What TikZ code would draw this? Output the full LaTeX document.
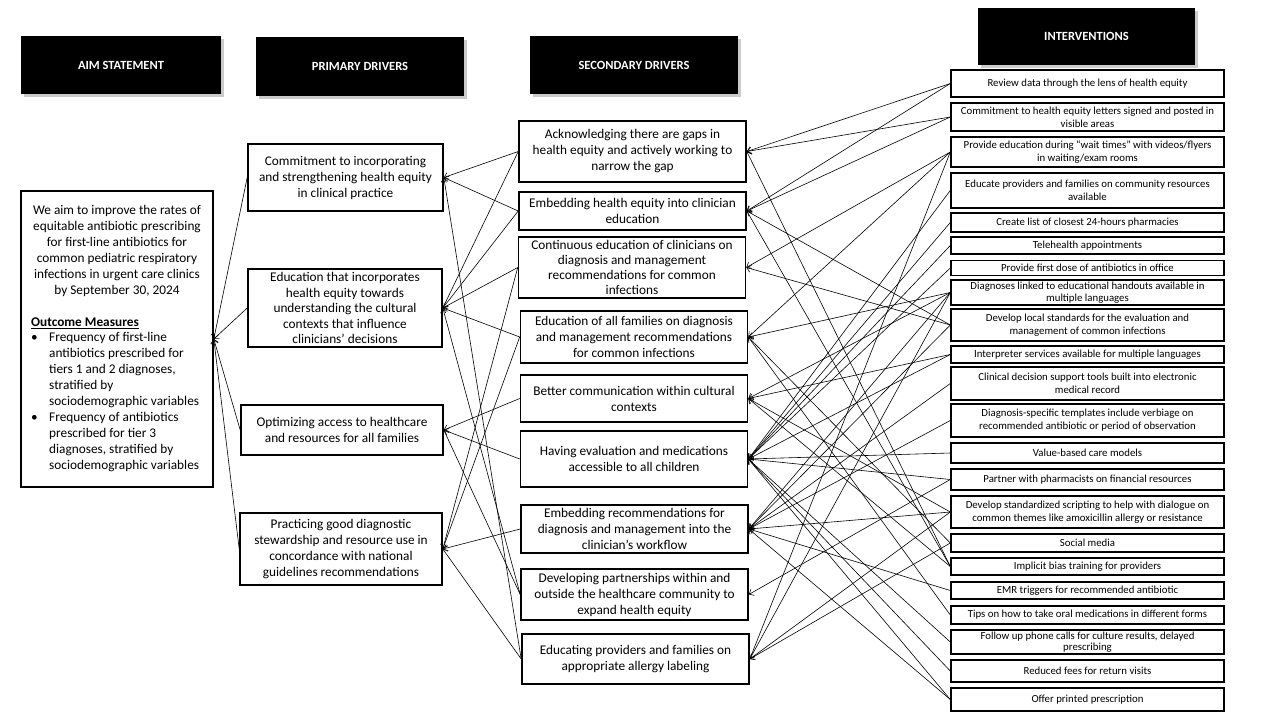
\documentclass[tikz,border=0pt]{standalone}
\usepackage{fontspec}
\setmainfont{Carlito}
\usetikzlibrary{arrows.meta,shadows}
\begin{document}
\begin{tikzpicture}[x=1pt,y=-1pt,
 hdr/.style={fill=black, text=white, font=\fontsize{12.5}{14}\selectfont\bfseries, inner sep=0pt,
   drop shadow={shadow xshift=2.5pt, shadow yshift=-2.5pt, fill=black!40}},
 bx/.style={draw, line width=1.6pt, inner sep=0pt, align=center, fill=white},
 big/.style={bx, font=\fontsize{13.3}{16}\selectfont},
 sec/.style={big, minimum width=227pt},
 iv/.style={bx, line width=1.4pt, font=\fontsize{10.8}{12.8}\selectfont, minimum width=273pt},
 conn/.style={line width=0.6pt, -{Straight Barb[length=4pt,width=7pt]}},
 txt/.style={inner sep=0pt, font=\fontsize{13.3}{16}\selectfont}
]
\fill[white] (0,0) rectangle (1280,720);
\useasboundingbox (0,0) rectangle (1280,720);

% headers
\node[hdr, minimum width=200pt, minimum height=58pt] (haim) at (121,65) {AIM STATEMENT};
\node[hdr, minimum width=208pt, minimum height=59pt] (hpri) at (360,66.5) {PRIMARY DRIVERS};
\node[hdr, minimum width=208pt, minimum height=58pt] (hsec) at (634,65) {SECONDARY DRIVERS};
\node[hdr, minimum width=217pt, minimum height=57pt] (hint) at (1086.5,36.5) {INTERVENTIONS};

% aim
\node[bx, minimum width=192pt, minimum height=296pt] (aim) at (117,339) {};
\node[txt, align=center] (aimtxt) at (117,251) {We aim to improve the rates of\\equitable antibiotic prescribing\\for first-line antibiotics for\\common pediatric respiratory\\infections in urgent care clinics\\by September 30, 2024};
\node[txt, anchor=west] (om) at (31,323) {\bfseries\underline{Outcome Measures}};
\node[txt, align=left, anchor=north west] (bul) at (31,332) {\makebox[18pt][l]{\textbullet}Frequency of first-line\\\makebox[18pt]{}antibiotics prescribed for\\\makebox[18pt]{}tiers 1 and 2 diagnoses,\\\makebox[18pt]{}stratified by\\\makebox[18pt]{}sociodemographic variables\\\makebox[18pt][l]{\textbullet}Frequency of antibiotics\\\makebox[18pt]{}prescribed for tier 3\\\makebox[18pt]{}diagnoses, stratified by\\\makebox[18pt]{}sociodemographic variables};

% primary drivers
\node[big, minimum width=195pt, minimum height=67pt] (p1) at (345.5,177.5) {Commitment to incorporating\\and strengthening health equity\\in clinical practice};
\node[big, minimum width=194pt, minimum height=78pt, font=\fontsize{13.3}{15.5}\selectfont] (p2) at (345,308) {Education that incorporates\\health equity towards\\understanding the cultural\\contexts that influence\\clinicians’ decisions};
\node[big, minimum width=202pt, minimum height=50pt] (p3) at (342,430) {Optimizing access to healthcare\\and resources for all families};
\node[big, minimum width=202pt, minimum height=72pt] (p4) at (341,549) {Practicing good diagnostic\\stewardship and resource use in\\concordance with national\\guidelines recommendations};

% secondary drivers
\node[sec, minimum height=61pt] (s1) at (632.5,151.5) {Acknowledging there are gaps in\\health equity and actively working to\\narrow the gap};
\node[sec, minimum height=38pt] (s2) at (632.5,211) {Embedding health equity into clinician\\education};
\node[sec, minimum height=61pt, font=\fontsize{13.3}{15}\selectfont] (s3) at (632,267.5) {Continuous education of clinicians on\\diagnosis and management\\recommendations for common\\infections};
\node[sec, minimum height=52pt] (s4) at (634,337) {Education of all families on diagnosis\\and management recommendations\\for common infections};
\node[sec, minimum height=47pt] (s5) at (634,398.5) {Better communication within cultural\\contexts};
\node[sec, minimum height=56pt] (s6) at (634,459) {Having evaluation and medications\\accessible to all children};
\node[sec, minimum height=48pt] (s7) at (634.5,529) {Embedding recommendations for\\diagnosis and management into the\\clinician’s workflow};
\node[sec, minimum height=51pt] (s8) at (634.5,594.5) {Developing partnerships within and\\outside the healthcare community to\\expand health equity};
\node[sec, minimum height=50pt] (s9) at (635.5,659) {Educating providers and families on\\appropriate allergy labeling};

% interventions
\node[iv, minimum height=27pt] (i1) at (1087.5,83.5) {Review data through the lens of health equity};
\node[iv, minimum height=28pt] (i2) at (1087.5,117) {Commitment to health equity letters signed and posted in\\visible areas};
\node[iv, minimum height=30pt] (i3) at (1087.5,152) {Provide education during “wait times” with videos/flyers\\in waiting/exam rooms};
\node[iv, minimum height=35pt] (i4) at (1087.5,190.5) {Educate providers and families on community resources\\available};
\node[iv, minimum height=19pt] (i5) at (1087.5,222.5) {Create list of closest 24-hours pharmacies};
\node[iv, minimum height=17pt] (i6) at (1087.5,245.5) {Telehealth appointments};
\node[iv, minimum height=15pt] (i7) at (1087.5,268) {Provide first dose of antibiotics in office};
\node[iv, minimum height=25pt, font=\fontsize{10.8}{11.8}\selectfont] (i8) at (1087.5,292.5) {Diagnoses linked to educational handouts available in\\multiple languages};
\node[iv, minimum height=32pt] (i9) at (1087.5,325) {Develop local standards for the evaluation and\\management of common infections};
\node[iv, minimum height=17pt] (i10) at (1087.5,354.5) {Interpreter services available for multiple languages};
\node[iv, minimum height=33pt] (i11) at (1087.5,383.5) {Clinical decision support tools built into electronic\\medical record};
\node[iv, minimum height=33pt] (i12) at (1087.5,420.5) {Diagnosis-specific templates include verbiage on\\recommended antibiotic or period of observation};
\node[iv, minimum height=20pt] (i13) at (1087.5,453) {Value-based care models};
\node[iv, minimum height=21pt] (i14) at (1087.5,479.5) {Partner with pharmacists on financial resources};
\node[iv, minimum height=32pt] (i15) at (1087.5,512) {Develop standardized scripting to help with dialogue on\\common themes like amoxicillin allergy or resistance};
\node[iv, minimum height=18pt] (i16) at (1087.5,543) {Social media};
\node[iv, minimum height=17pt] (i17) at (1087.5,566.5) {Implicit bias training for providers};
\node[iv, minimum height=17pt] (i18) at (1087.5,590.5) {EMR triggers for recommended antibiotic};
\node[iv, minimum height=18pt] (i19) at (1087.5,615) {Tips on how to take oral medications in different forms};
\node[iv, minimum height=24pt, font=\fontsize{10.8}{11.5}\selectfont] (i20) at (1087.5,642) {Follow up phone calls for culture results, delayed\\prescribing};
\node[iv, minimum height=22pt] (i21) at (1087.5,671) {Reduced fees for return visits};
\node[iv, minimum height=23pt] (i22) at (1087.5,699.5) {Offer printed prescription};

% primary -> aim
\foreach \p in {p1,p2,p3,p4} \draw[conn] (\p.west) -- (aim.east);

% secondary -> primary
\foreach \s/\p in {s1/p1,s2/p1,s9/p1,
                   s1/p2,s2/p2,s3/p2,s4/p2,s8/p2,
                   s5/p3,s6/p3,s8/p3,
                   s3/p4,s4/p4,s7/p4,s9/p4}
  \draw[conn] (\s.west) -- (\p.east);

% interventions -> secondary
\foreach \i/\s in {i1/s1,i2/s1,i17/s1,
                   i1/s2,i2/s2,i9/s2,i17/s2,
                   i3/s3,i9/s3,
                   i3/s4,i8/s4,i16/s4,i19/s4,
                   i8/s5,i10/s5,i15/s5,i17/s5,
                   i4/s6,i5/s6,i6/s6,i7/s6,i10/s6,i13/s6,i14/s6,i20/s6,i21/s6,i22/s6,
                   i8/s7,i9/s7,i11/s7,i12/s7,i15/s7,i18/s7,i22/s7,
                   i14/s8,
                   i3/s9,i8/s9,i15/s9,i16/s9}
  \draw[conn] (\i.west) -- (\s.east);
\end{tikzpicture}
\end{document}
